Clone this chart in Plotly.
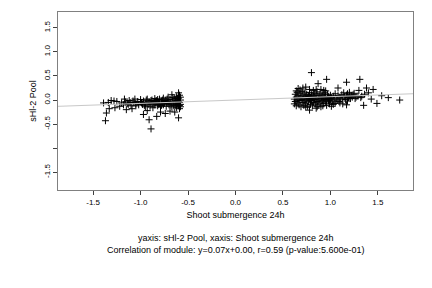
import plotly.graph_objects as go

# Left cluster (Shoot submergence 24h < 0)
x_left = [-1.39,-1.37,-1.36,-1.34,-1.33,-1.31,-1.28,-1.27,-1.25,-1.22,-1.20,-1.17,-1.16,-1.15,-1.13,-1.12,-1.10,-1.09,-1.07,-1.06,
          -1.05,-1.03,-1.02,-1.00,-0.99,-0.97,-0.97,-0.96,-0.95,-0.94,-0.93,-0.93,-0.92,-0.91,-0.91,-0.90,-0.89,-0.89,-0.88,-0.87,
          -0.86,-0.85,-0.85,-0.84,-0.83,-0.83,-0.82,-0.81,-0.80,-0.80,-0.79,-0.79,-0.78,-0.77,-0.76,-0.76,-0.75,-0.74,-0.74,-0.73,
          -0.72,-0.71,-0.71,-0.70,-0.69,-0.69,-0.68,-0.67,-0.67,-0.66,-0.65,-0.64,-0.64,-0.63,-0.63,-0.62,-0.62,-0.61,-0.61,-0.60,
          -0.60,-0.60,-0.60,-0.59,-0.59,-0.59,-0.58,-0.58,-0.58,-0.58,
          -0.86,-0.84,-0.82,-0.81,-0.78,-0.77,-0.75,-0.73,-0.72,-0.70,-0.68,-0.66,-0.65,-0.63,-0.62,-0.61,-0.60,-0.59,
          -1.05,-1.00,-0.98,-0.95,-0.90,-0.88,-1.08,-1.14,-1.18,-1.11]
y_left = [-0.06,-0.43,-0.27,-0.05,-0.18,-0.01,-0.02,-0.16,-0.03,-0.13,-0.06,0.02,-0.04,-0.20,-0.09,-0.01,-0.12,-0.18,-0.05,0.02,
          -0.08,-0.03,-0.10,0.01,-0.06,-0.30,-0.02,-0.11,-0.07,0.00,-0.22,0.02,-0.09,-0.41,-0.04,-0.13,-0.60,-0.01,-0.07,-0.16,
          -0.03,0.03,-0.10,-0.06,-0.34,-0.01,-0.12,-0.04,0.02,-0.08,-0.25,-0.14,-0.02,-0.06,0.04,-0.10,-0.04,-0.28,-0.01,-0.13,
          -0.07,0.06,-0.03,-0.10,-0.23,0.01,-0.05,0.11,-0.14,-0.02,-0.08,-0.25,0.03,-0.11,-0.04,0.07,-0.16,-0.01,-0.07,0.15,
          -0.37,-0.12,0.04,0.10,-0.05,-0.18,0.00,-0.09,-0.14,0.06,
          -0.08,-0.02,0.01,-0.09,-0.11,0.00,-0.07,-0.03,0.02,-0.06,-0.10,0.05,-0.12,0.00,-0.09,0.03,-0.03,-0.11,
          -0.12,-0.04,-0.09,-0.14,-0.06,0.00,-0.02,-0.07,-0.10,-0.05]

# Right cluster (Shoot submergence 24h > 0)
x_right = [0.80,0.96,0.87,1.17,1.31,1.08,1.38,1.45,1.30,0.71,0.66,0.74,0.78,0.85,0.93,1.54,1.61,1.73,1.43,1.49,
           1.35,0.78,0.85,1.01,1.17,1.13,1.40,1.36,1.25,1.20,1.27,1.33,
           0.62,0.62,0.63,0.63,0.64,0.64,0.65,0.65,0.66,0.66,0.67,0.67,0.68,0.68,0.69,0.69,0.70,0.70,
           0.71,0.71,0.72,0.72,0.73,0.73,0.74,0.74,0.75,0.75,0.76,0.76,0.77,0.77,0.78,0.78,0.79,0.79,0.80,0.80,
           0.81,0.81,0.82,0.82,0.83,0.83,0.84,0.84,0.85,0.85,0.86,0.86,0.87,0.87,0.88,0.88,0.89,0.89,0.90,0.90,
           0.91,0.91,0.92,0.92,0.93,0.93,0.94,0.94,0.95,0.95,0.96,0.96,0.97,0.97,0.98,0.98,0.99,0.99,1.00,1.00,
           1.01,1.02,1.03,1.04,1.05,1.05,1.06,1.07,1.08,1.09,1.10,1.11,1.12,1.13,1.14,1.15,1.16,1.17,1.18,1.19,
           1.20,1.21,1.22,1.23,1.24,1.26,1.29,1.32,1.18,1.10,1.03,0.95,0.90,0.82,0.68,0.64,0.74,0.86,0.92]
y_right = [0.57,0.43,0.34,0.37,0.43,0.25,0.25,0.22,0.20,0.25,0.24,0.27,0.22,0.22,0.20,0.09,0.05,0.00,0.02,-0.07,
           -0.11,-0.21,-0.17,-0.13,-0.10,-0.08,0.15,0.12,0.14,0.08,0.06,0.08,
           0.02,-0.08,0.12,-0.03,0.06,-0.12,0.00,0.16,-0.06,0.09,0.03,-0.10,0.13,-0.01,0.06,-0.14,0.01,0.18,
           -0.05,0.10,0.04,-0.11,0.15,-0.02,0.07,-0.08,0.00,0.12,-0.13,0.05,0.09,-0.04,0.02,0.16,-0.09,0.06,0.11,-0.01,
           0.04,-0.12,0.08,-0.05,0.14,0.01,-0.08,0.06,0.02,0.10,-0.03,0.17,0.05,-0.10,0.00,0.09,0.13,-0.06,0.03,-0.14,
           0.07,-0.02,0.11,0.00,-0.07,0.05,0.02,0.15,-0.04,0.08,0.01,-0.11,0.12,0.04,-0.02,0.07,0.03,-0.08,0.10,0.00,
           0.05,-0.04,0.08,0.02,-0.07,0.13,0.04,0.00,0.09,-0.03,0.06,0.02,0.11,0.04,0.15,0.07,0.01,0.10,0.13,0.05,
           0.16,0.03,0.09,0.06,0.11,0.03,0.08,0.05,-0.02,-0.06,-0.09,0.19,0.22,0.20,0.21,0.19,-0.15,-0.14,-0.12]

slope = 0.07
intercept = 0.00
x_range = [-1.87, 1.87]
y_range = [-1.87, 1.83]
x_ticks = [-1.5, -1.0, -0.5, 0.0, 0.5, 1.0, 1.5]
x_tick_labels = ["-1.5", "-1.0", "-0.5", "0.0", "0.5", "1.0", "1.5"]
y_ticks = [-1.5, -1.0, -0.5, 0.0, 0.5, 1.0, 1.5]
y_tick_labels = ["-1.5", "", "-0.5", "0.0", "0.5", "1.0", "1.5"]

font = "Liberation Sans, Arial, sans-serif"

fig = go.Figure()
fig.add_trace(go.Scatter(
    x=x_left + x_right, y=y_left + y_right, mode="markers",
    marker=dict(symbol="cross-thin", size=5, line=dict(color="black", width=1), color="black"),
    showlegend=False, hoverinfo="skip"))
fig.add_trace(go.Scatter(
    x=x_range, y=[slope * v + intercept for v in x_range], mode="lines",
    line=dict(color="#c8c8c8", width=1), showlegend=False, hoverinfo="skip"))

fig.update_layout(
    width=432, height=288, paper_bgcolor="white", plot_bgcolor="white",
    margin=dict(l=58, r=19, t=12, b=98),
    font=dict(family=font, size=8, color="black"),
    xaxis=dict(range=x_range, tickvals=x_ticks, ticktext=x_tick_labels, showgrid=False, zeroline=False,
               showline=True, mirror=True, linecolor="#808080", linewidth=1,
               ticks="outside", ticklen=4, tickcolor="#404040",
               title=dict(text="Shoot submergence 24h", font=dict(size=9), standoff=6)),
    yaxis=dict(range=y_range, tickvals=y_ticks, ticktext=y_tick_labels, showgrid=False, zeroline=False,
               showline=True, mirror=True, linecolor="#808080", linewidth=1,
               ticks="outside", ticklen=4, tickcolor="#404040", tickangle=-90,
               title=dict(text="sHl-2 Pool", font=dict(size=9), standoff=4)),
    annotations=[
        dict(text="yaxis: sHl-2 Pool, xaxis: Shoot submergence 24h", xref="paper", yref="paper",
             x=0.5, y=-0.27, yanchor="middle", showarrow=False, font=dict(size=9)),
        dict(text="Correlation of module: y=0.07x+0.00, r=0.59 (p-value:5.600e-01)", xref="paper", yref="paper",
             x=0.5, y=-0.335, yanchor="middle", showarrow=False, font=dict(size=9)),
    ])

fig.write_html("out.html")
